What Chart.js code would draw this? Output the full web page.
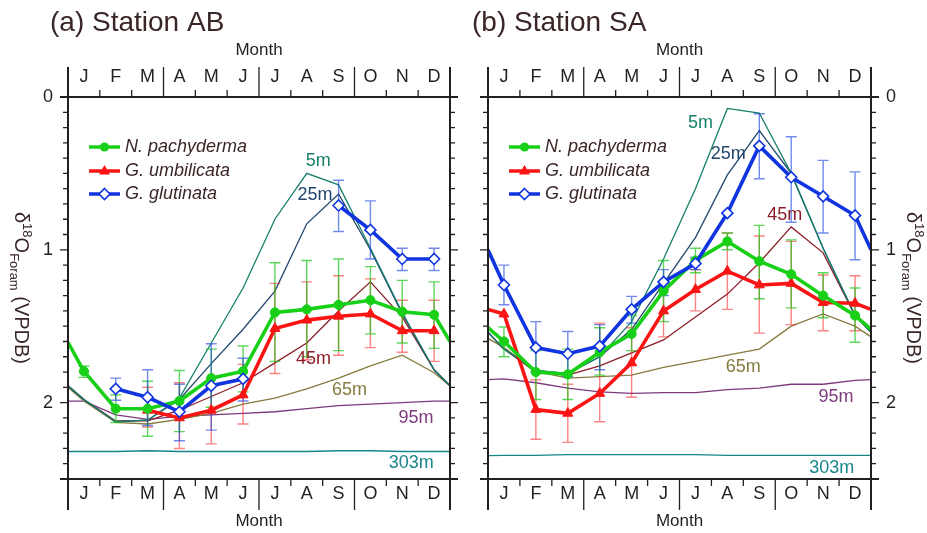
<!DOCTYPE html>
<html><head><meta charset="utf-8">
<script src="https://cdn.jsdelivr.net/npm/chart.js@4.4.1/dist/chart.umd.min.js"></script>
<style>
html,body{margin:0;padding:0;background:#fff;}
#wrap{position:relative;width:927px;height:533px;overflow:hidden;background:#fff;}
canvas{position:absolute;top:0;}
</style>
</head><body>
<div id="wrap">
<canvas id="cA" width="470" height="533" style="left:0px"></canvas>
<canvas id="cB" width="457" height="533" style="left:470px"></canvas>
</div>
<script>
// ---------- data (δ18O, ‰ VPDB; months Jan..Dec) ----------
const MONTHS = ['J','F','M','A','M','J','J','A','S','O','N','D'];
const Y_TICKS = [0, 1, 2];
const DEPTHS = ['5m','25m','45m','65m','95m','303m'];
const SPECIES = ['N. pachyderma','G. umbilicata','G. glutinata'];

// Station AB
const abPachy   = [1.795, 2.04, 2.04, 1.99, 1.84, 1.795, 1.41, 1.39, 1.36, 1.33, 1.405, 1.425];
const abPachyEdges = [1.605, 1.60];
const abPachyLo = [1.76, 1.95, 1.86, 1.79, 1.65, 1.63, 1.085, 1.07, 1.06, 1.11, 1.20, 1.21];
const abPachyHi = [1.835, 2.13, 2.22, 2.19, 2.03, 1.93, 1.73, 1.70, 1.66, 1.55, 1.61, 1.645];
const abUmb   = [null, null, 2.05, 2.10, 2.05, 1.95, 1.515, 1.46, 1.435, 1.42, 1.53, 1.53];
const abUmbLo = [null, null, 1.90, 1.87, 1.84, 1.75, 1.22, 1.21, 1.17, 1.19, 1.33, 1.33];
const abUmbHi = [null, null, 2.16, 2.30, 2.27, 2.14, 1.81, 1.72, 1.69, 1.64, 1.67, 1.73];
const abGlut   = [null, 1.91, 1.965, 2.06, 1.89, 1.845, null, null, 0.71, 0.87, 1.06, 1.06];
const abGlutLo = [null, 1.84, 1.785, 1.88, 1.615, 1.71, null, null, 0.545, 0.68, 0.99, 0.99];
const abGlutHi = [null, 1.985, 2.15, 2.25, 2.18, 1.99, null, null, 0.88, 1.06, 1.135, 1.135];
const ab5m   = [1.98, 2.125, 2.115, 1.97, 1.61, 1.25, 0.80, 0.50, 0.575, 0.99, 1.41, 1.785];
const ab25m  = [1.98, 2.125, 2.115, 1.98, 1.745, 1.52, 1.27, 0.83, 0.635, 1.00, 1.42, 1.785];
const ab45m  = [1.98, 2.12, 2.12, 2.05, 1.96, 1.87, 1.74, 1.61, 1.40, 1.21, 1.44, 1.785];
const ab65m  = [1.99, 2.13, 2.14, 2.11, 2.07, 2.01, 1.97, 1.91, 1.84, 1.76, 1.69, 1.805];
const ab95m  = [1.99, 2.08, 2.11, 2.09, 2.08, 2.07, 2.06, 2.04, 2.02, 2.01, 2.00, 1.99];
const ab303m = [2.32, 2.32, 2.315, 2.32, 2.32, 2.32, 2.32, 2.32, 2.315, 2.315, 2.32, 2.32];
const abDepthEdges = [[1.89,1.89],[1.89,1.89],[1.89,1.89],[1.90,1.89],[1.99,1.99],[2.32,2.32]];

// Station SA
const saPachy   = [1.60, 1.80, 1.815, 1.67, 1.55, 1.27, 1.07, 0.945, 1.075, 1.16, 1.30, 1.43];
const saPachyEdges = [1.51, 1.52];
const saPachyLo = [1.505, 1.66, 1.65, 1.51, 1.43, 1.07, 0.99, 0.89, 0.84, 0.935, 1.15, 1.25];
const saPachyHi = [1.70, 1.98, 1.98, 1.82, 1.66, 1.47, 1.15, 1.00, 1.32, 1.38, 1.445, 1.605];
const saUmb   = [1.42, 2.045, 2.07, 1.94, 1.74, 1.40, 1.26, 1.14, 1.23, 1.22, 1.345, 1.35];
const saUmbEdges = [1.39, 1.39];
const saUmbLo = [null, 1.85, 1.88, 1.48, 1.51, 1.26, 1.13, 0.89, 0.91, 0.945, 1.165, 1.17];
const saUmbHi = [null, 2.24, 2.26, 2.125, 1.965, 1.57, 1.40, 1.39, 1.545, 1.49, 1.53, 1.53];
const saGlut   = [1.23, 1.64, 1.68, 1.63, 1.39, 1.21, 1.09, 0.76, 0.32, 0.525, 0.65, 0.775];
const saGlutEdges = [1.00, 1.00];
const saGlutLo = [1.10, 1.47, 1.535, 1.49, 1.305, 1.13, 1.05, null, 0.11, 0.26, 0.415, 0.49];
const saGlutHi = [1.36, 1.80, 1.83, 1.785, 1.48, 1.30, 1.13, null, 0.535, 0.82, 0.89, 1.065];
const sa5m   = [1.65, 1.79, 1.81, 1.70, 1.47, 1.06, 0.60, 0.075, 0.105, 0.50, 0.99, 1.43];
const sa25m  = [1.65, 1.79, 1.81, 1.70, 1.52, 1.22, 0.92, 0.51, 0.22, 0.50, 0.99, 1.43];
const sa45m  = [1.65, 1.80, 1.82, 1.76, 1.675, 1.59, 1.44, 1.29, 1.085, 0.85, 1.02, 1.43];
const sa65m  = [1.64, 1.795, 1.84, 1.83, 1.82, 1.77, 1.73, 1.69, 1.65, 1.50, 1.42, 1.50];
const sa95m  = [1.845, 1.87, 1.905, 1.93, 1.94, 1.935, 1.935, 1.915, 1.905, 1.88, 1.88, 1.855];
const sa303m = [2.345, 2.345, 2.34, 2.34, 2.34, 2.34, 2.34, 2.345, 2.345, 2.345, 2.345, 2.345];
const saDepthEdges = [[1.54,1.54],[1.54,1.54],[1.54,1.54],[1.58,1.57],[1.85,1.85],[2.347,2.345]];

// ---------- styling ----------
const FONT = "'Liberation Sans', Arial, Helvetica, sans-serif";
const INK = '#231f20';
const TXT = '#3a2626';
const GREEN = '#18d018', RED = '#fa1414', BLUE = '#0f34e0';
const GREEN_E = 'rgba(24,200,24,0.7)', RED_E = 'rgba(250,30,30,0.55)', BLUE_E = 'rgba(20,60,225,0.6)';
const DEPTH_COLORS = ['#16806a', '#23466e', '#8b1e28', '#857b3e', '#7d3a7d', '#17868a'];

function pts(vals, edges) {
  const out = [];
  if (edges) out.push({x: 0.5, y: edges[0]});
  vals.forEach((v, i) => out.push({x: i + 1, y: v}));
  if (edges) out.push({x: 12.5, y: edges[1]});
  return out;
}
const onMonth = r => (c) => (c.raw && Number.isInteger(c.raw.x) ? r : 0);

function speciesSets(p, pe, plo, phi, u, ue, ulo, uhi, g, ge, glo, ghi) {
  return [
    {data: pts(g, ge), borderColor: BLUE, borderWidth: 3.6, pointStyle: 'rectRot',
     pointRadius: onMonth(5.5), pointBackgroundColor: '#fff', pointBorderColor: BLUE, pointBorderWidth: 1.6,
     order: 1, errLo: glo, errHi: ghi, errColor: BLUE_E},
    {data: pts(p, pe), borderColor: GREEN, borderWidth: 3.6, pointStyle: 'circle',
     pointRadius: onMonth(4.6), pointBackgroundColor: GREEN, pointBorderColor: GREEN, pointBorderWidth: 1,
     order: 2, errLo: plo, errHi: phi, errColor: GREEN_E},
    {data: pts(u, ue), borderColor: RED, borderWidth: 3.6, pointStyle: 'triangle',
     pointRadius: onMonth(5.8), pointBackgroundColor: RED, pointBorderColor: RED, pointBorderWidth: 1,
     order: 3, errLo: ulo, errHi: uhi, errColor: RED_E, errorsBefore: true}
  ];
}
function depthSets(lines, edges) {
  return lines.map((vals, k) => ({data: pts(vals, edges[k]), borderColor: DEPTH_COLORS[k],
    borderWidth: 1.3, pointRadius: 0, order: 10 + k}));
}

function makeDecor(cfg) {
  return {
    id: 'decor',
    beforeDatasetDraw(chart, args) {
      const ds = chart.data.datasets[args.index];
      if (!ds.errorsBefore) return;
      const ctx = chart.ctx, xs = chart.scales.x, ys = chart.scales.y, ca = chart.chartArea;
      ctx.save();
      ctx.beginPath(); ctx.rect(ca.left, ca.top, ca.right - ca.left, ca.bottom - ca.top); ctx.clip();
      ctx.lineWidth = 1.4;
      const list = chart.data.datasets.filter(d => d.errLo).sort((a, b) => b.order - a.order);
      for (const d of list) {
        ctx.strokeStyle = d.errColor;
        d.errLo.forEach((lo, i) => {
          const hi = d.errHi[i];
          if (lo == null || hi == null) return;
          const x = xs.getPixelForValue(i + 1), y1 = ys.getPixelForValue(lo), y2 = ys.getPixelForValue(hi);
          ctx.beginPath();
          ctx.moveTo(x, y1); ctx.lineTo(x, y2);
          ctx.moveTo(x - 5.5, y1); ctx.lineTo(x + 5.5, y1);
          ctx.moveTo(x - 5.5, y2); ctx.lineTo(x + 5.5, y2);
          ctx.stroke();
        });
      }
      ctx.restore();
    },
    afterDatasetsDraw(chart) {
      const ctx = chart.ctx, xs = chart.scales.x, ys = chart.scales.y, ca = chart.chartArea;
      ctx.save();
      ctx.font = '18px ' + FONT; ctx.textAlign = 'center'; ctx.textBaseline = 'middle';
      cfg.depthPos.forEach((p, k) => {
        ctx.fillStyle = DEPTH_COLORS[k];
        ctx.fillText(DEPTHS[k], xs.getPixelForValue(p[0]), ys.getPixelForValue(p[1]));
      });
      // legend
      const styles = [[GREEN, 'circle'], [RED, 'triangle'], [BLUE, 'diamond']];
      const rows = [50, 74, 97];
      styles.forEach(([col, shape], i) => {
        const y = ca.top + rows[i], x1 = ca.left + 21, x2 = ca.left + 52, xm = (x1 + x2) / 2;
        ctx.strokeStyle = col; ctx.lineWidth = 3.5;
        ctx.beginPath(); ctx.moveTo(x1, y); ctx.lineTo(x2, y); ctx.stroke();
        ctx.fillStyle = col; ctx.beginPath();
        if (shape === 'circle') { ctx.arc(xm, y, 4.6, 0, Math.PI * 2); ctx.fill(); }
        else if (shape === 'triangle') { ctx.moveTo(xm, y - 6); ctx.lineTo(xm + 5.5, y + 3.5); ctx.lineTo(xm - 5.5, y + 3.5); ctx.closePath(); ctx.fill(); }
        else { ctx.moveTo(xm, y - 5.5); ctx.lineTo(xm + 5.5, y); ctx.lineTo(xm, y + 5.5); ctx.lineTo(xm - 5.5, y); ctx.closePath();
               ctx.fillStyle = '#fff'; ctx.fill(); ctx.lineWidth = 1.6; ctx.stroke(); }
        ctx.fillStyle = TXT; ctx.font = 'italic 18px ' + FONT; ctx.textAlign = 'left'; ctx.textBaseline = 'middle';
        ctx.fillText(SPECIES[i], ca.left + 57, y);
      });
      ctx.restore();
    },
    afterDraw(chart) {
      const ctx = chart.ctx, xs = chart.scales.x, ys = chart.scales.y, ca = chart.chartArea;
      const L = ca.left, R = ca.right, T = ca.top, B = ca.bottom;
      ctx.save();
      ctx.strokeStyle = INK; ctx.lineCap = 'butt';
      ctx.lineWidth = 2;
      ctx.beginPath();
      ctx.moveTo(L - 8, T); ctx.lineTo(R + 8, T);
      ctx.moveTo(L - 8, B); ctx.lineTo(R + 8, B);
      ctx.moveTo(L, T - 30); ctx.lineTo(L, B + 31);
      ctx.moveTo(R, T - 30); ctx.lineTo(R, B + 31);
      ctx.stroke();
      ctx.lineWidth = 1.3;
      ctx.beginPath();
      for (let k = 1; k < 12; k++) {
        const x = xs.getPixelForValue(k + 0.5);
        const lt = k % 3 === 0 ? 30 : 7, lb = k % 3 === 0 ? 31 : 7;
        ctx.moveTo(x, T); ctx.lineTo(x, T - lt);
        ctx.moveTo(x, B); ctx.lineTo(x, B + lb);
      }
      for (let i = 1; i < 25; i++) {
        const y = ys.getPixelForValue(i / 10);
        const len = i % 10 === 0 ? 8 : 5;
        ctx.moveTo(L, y); ctx.lineTo(L - len, y);
        ctx.moveTo(R, y); ctx.lineTo(R + len, y);
      }
      ctx.stroke();
      // panel title
      ctx.fillStyle = TXT; ctx.font = '28px ' + FONT; ctx.textAlign = 'left'; ctx.textBaseline = 'middle';
      ctx.fillText(cfg.title, cfg.titleX, 23);
      // y-axis title, rotated clockwise
      ctx.translate(cfg.yTitleX, (T + B) / 2);
      ctx.rotate(Math.PI / 2);
      const parts = [['δ', 20, 0], ['18', 13, -8], ['O', 20, 0], ['Foram', 13, 5], [' (VPDB)', 20, 0]];
      let w = 0;
      parts.forEach(p => { ctx.font = p[1] + 'px ' + FONT; w += ctx.measureText(p[0]).width; });
      let x = -w / 2;
      ctx.textBaseline = 'alphabetic';
      parts.forEach(p => { ctx.font = p[1] + 'px ' + FONT; ctx.fillText(p[0], x, 7 + p[2]); x += ctx.measureText(p[0]).width; });
      ctx.restore();
    }
  };
}

function xAxis(pos, height, tickPad, titlePad) {
  return {
    type: 'linear', position: pos, min: 0.5, max: 12.5,
    afterBuildTicks: s => { s.ticks = MONTHS.map((m, i) => ({value: i + 1})); },
    ticks: {callback: v => MONTHS[Math.round(v) - 1], font: {family: FONT, size: 18}, color: INK,
            padding: tickPad, maxRotation: 0, autoSkip: false},
    grid: {display: false, drawTicks: false}, border: {display: false},
    title: {display: true, text: 'Month', font: {family: FONT, size: 17}, color: INK, padding: titlePad},
    afterFit: s => { s.height = height; }
  };
}
function yAxis(pos, width, showLabels) {
  return {
    type: 'linear', position: pos, min: 0, max: 2.5, reverse: true,
    afterBuildTicks: s => { s.ticks = Y_TICKS.map(v => ({value: v})); },
    ticks: {display: showLabels, font: {family: FONT, size: 18}, color: INK, padding: 15},
    grid: {display: false, drawTicks: false}, border: {display: false},
    afterFit: s => { s.width = width; }
  };
}

function makeChart(id, datasets, scales, cfg) {
  return new Chart(document.getElementById(id), {
    type: 'line',
    data: {datasets},
    options: {
      responsive: false, animation: false, devicePixelRatio: 1,
      layout: {padding: 0},
      parsing: true,
      elements: {line: {tension: 0}},
      datasets: {line: {spanGaps: false}},
      plugins: {legend: {display: false}, tooltip: {enabled: false}, title: {display: false}},
      scales
    },
    plugins: [makeDecor(cfg)]
  });
}

makeChart('cA',
  [...speciesSets(abPachy, abPachyEdges, abPachyLo, abPachyHi, abUmb, null, abUmbLo, abUmbHi, abGlut, null, abGlutLo, abGlutHi),
   ...depthSets([ab5m, ab25m, ab45m, ab65m, ab95m, ab303m], abDepthEdges)],
  {x: xAxis('bottom', 54, 4, {top: 0, bottom: 1}), x2: xAxis('top', 97, 9, {top: 40, bottom: 0}),
   y: yAxis('left', 68, true), y2: yAxis('right', 20, false)},
  {title: '(a) Station AB', titleX: 50, yTitleX: 22,
   depthPos: [[8.36, 0.416], [8.26, 0.64], [8.21, 1.714], [9.34, 1.92], [11.43, 2.10], [11.28, 2.394]]});

makeChart('cB',
  [...speciesSets(saPachy, saPachyEdges, saPachyLo, saPachyHi, saUmb, saUmbEdges, saUmbLo, saUmbHi, saGlut, saGlutEdges, saGlutLo, saGlutHi),
   ...depthSets([sa5m, sa25m, sa45m, sa65m, sa95m, sa303m], saDepthEdges)],
  {x: xAxis('bottom', 54, 4, {top: 0, bottom: 1}), x2: xAxis('top', 97, 9, {top: 40, bottom: 0}),
   y: yAxis('left', 18, false), y2: yAxis('right', 56, true)},
  {title: '(b) Station SA', titleX: 2, yTitleX: 444,
   depthPos: [[7.16, 0.168], [8.03, 0.375], [9.80, 0.771], [8.50, 1.769], [11.40, 1.963], [11.27, 2.431]]});
</script>
</body></html>
